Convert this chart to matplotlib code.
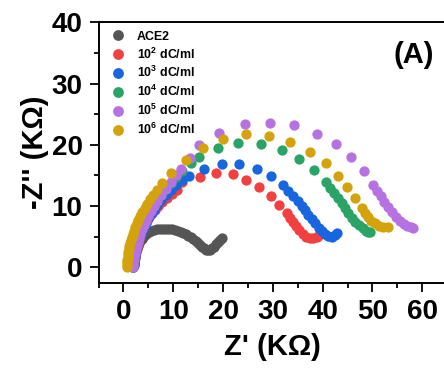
import matplotlib
matplotlib.use("Agg")
import matplotlib.pyplot as plt
from matplotlib.ticker import MultipleLocator
from matplotlib.font_manager import FontProperties

plt.rcParams['font.family'] = ['Liberation Sans', 'DejaVu Sans']
plt.rcParams['mathtext.fontset'] = 'custom'
plt.rcParams['mathtext.rm'] = 'Liberation Sans:bold'
plt.rcParams['mathtext.bf'] = 'Liberation Sans:bold'
plt.rcParams['mathtext.it'] = 'Liberation Sans:bold'

# ---------------- data ----------------
labels = ['ACE2', r'10$^{2}$ dC/ml', r'10$^{3}$ dC/ml', r'10$^{4}$ dC/ml',
          r'10$^{5}$ dC/ml', r'10$^{6}$ dC/ml']
colors = ['#555555', '#f23f3f', '#1766e0', '#2aa466', '#b772e2', '#d4a20c']

ace2_x = [2.0, 2.1, 2.2, 2.3, 2.4, 2.6, 2.8, 3.0, 3.2, 3.4, 3.7, 4.0, 4.3, 4.7, 5.1,
          5.6, 6.1, 6.7, 7.3, 7.9, 8.5, 9.1, 9.7, 10.3, 10.9, 11.5, 12.0, 12.5, 13.0,
          13.5, 14.0, 14.5, 14.9, 15.3, 15.7, 16.1, 16.5, 16.9, 17.3, 17.7, 18.1, 18.5,
          18.9, 19.3, 19.7]
ace2_y = [0.0, 0.5, 1.0, 1.5, 2.0, 2.5, 3.0, 3.5, 3.9, 4.3, 4.7, 5.0, 5.3, 5.6, 5.8,
          6.0, 6.1, 6.2, 6.3, 6.3, 6.3, 6.3, 6.2, 6.1, 6.0, 5.8, 5.6, 5.4, 5.2,
          4.9, 4.6, 4.3, 4.0, 3.7, 3.4, 3.1, 2.9, 2.8, 2.9, 3.1, 3.4, 3.8,
          4.2, 4.5, 4.8]

c2_x = [2.0, 2.05, 2.1, 2.2, 2.3, 2.4, 2.5, 2.7, 2.9, 3.1, 3.3, 3.6, 3.9, 4.3, 4.7,
        5.2, 5.7, 6.3, 7.0, 7.8, 8.7, 9.7, 10.7, 11.8, 15.4, 18.6,
        22.0, 24.6, 27.2, 29.6, 31.2, 32.8, 33.5, 34.1, 34.7, 35.3, 36.0, 36.7, 37.4,
        38.1, 38.9, 39.2]
c2_y = [0.0, 0.4, 0.8, 1.3, 1.8, 2.3, 2.8, 3.4, 4.0, 4.6, 5.2, 5.8, 6.4, 7.0, 7.6,
        8.2, 8.8, 9.4, 10.0, 10.7, 11.3, 12.0, 12.6, 13.9, 14.7, 15.4,
        15.2, 14.3, 13.1, 11.6, 10.2, 8.9, 8.1, 7.4, 6.7, 6.1, 5.4, 4.9, 4.8,
        4.8, 4.9, 5.3]

c3_x = [2.0, 2.05, 2.1, 2.2, 2.3, 2.4, 2.6, 2.8, 3.0, 3.2, 3.5, 3.8, 4.1, 4.5, 5.0,
        5.5, 6.1, 6.8, 7.6, 8.5, 9.5, 10.6, 11.8, 13.2, 16.2, 19.8, 23.2, 26.8, 29.6,
        32.0, 33.1, 34.1, 35.0, 35.9, 36.5, 37.1, 37.8, 38.5, 39.2, 39.9, 40.5, 41.1,
        41.8, 42.5, 42.8]
c3_y = [0.0, 0.4, 0.9, 1.4, 1.9, 2.4, 3.0, 3.6, 4.2, 4.8, 5.4, 6.0, 6.6, 7.3, 8.0,
        8.7, 9.4, 10.2, 11.0, 11.8, 12.6, 13.4, 14.2, 14.9, 16.0, 16.9, 16.9, 16.0, 14.9,
        13.4, 12.5, 11.6, 10.8, 10.0, 9.3, 8.5, 7.9, 7.2, 6.5, 5.9, 5.5, 5.2,
        5.0, 5.3, 5.6]

c4_x = [1.8, 1.85, 1.9, 2.0, 2.1, 2.2, 2.4, 2.6, 2.8, 3.0, 3.3, 3.6, 4.0, 4.4, 4.9,
        5.4, 6.0, 6.7, 7.5, 8.4, 9.5, 10.6, 11.8, 13.5, 15.2, 19.0, 23.0, 27.6, 31.8,
        35.3, 38.3, 40.7, 41.5, 42.3, 43.1, 43.9, 44.5, 45.1, 45.8, 46.5, 47.3, 48.1,
        48.7, 49.2, 49.5]
c4_y = [0.0, 0.4, 0.9, 1.4, 1.9, 2.4, 3.0, 3.6, 4.2, 4.8, 5.5, 6.2, 6.9, 7.6, 8.4,
        9.2, 10.0, 10.9, 11.8, 12.8, 13.8, 14.8, 15.8, 17.0, 18.0, 19.5, 20.3, 20.1, 19.2,
        17.7, 15.9, 13.9, 13.0, 12.1, 11.3, 10.5, 9.7, 8.9, 8.1, 7.4, 6.9, 6.4,
        6.0, 5.8, 5.8]

c5_x = [1.9, 1.95, 2.0, 2.1, 2.2, 2.3, 2.5, 2.7, 2.9, 3.1, 3.4, 3.7, 4.1, 4.5, 5.0,
        5.5, 6.1, 6.8, 7.6, 8.5, 9.5, 10.6, 11.6, 13.4, 15.2, 19.2, 24.4, 29.4, 34.3,
        38.9, 42.7, 45.7, 48.3, 50.1, 50.9, 51.7, 52.4, 53.1, 53.9, 54.7, 55.5, 56.3,
        57.0, 57.7, 58.2]
c5_y = [0.0, 0.4, 0.9, 1.4, 1.9, 2.4, 3.0, 3.6, 4.2, 4.8, 5.5, 6.2, 6.9, 7.6, 8.4,
        9.2, 10.0, 10.9, 11.8, 12.8, 13.9, 15.0, 16.0, 17.9, 20.0, 21.9, 23.4, 23.6, 23.3,
        21.8, 20.1, 18.0, 15.7, 13.4, 12.5, 11.6, 10.7, 9.8, 9.0, 8.2, 7.6, 7.1,
        6.8, 6.6, 6.5]

c6_x = [0.7, 0.72, 0.75, 0.8, 0.85, 0.9, 1.0, 1.1, 1.2, 1.35, 1.5, 1.7, 1.9, 2.1, 2.4,
        2.7, 3.0, 3.4, 3.8, 4.3, 4.8, 5.4, 6.0, 6.8, 7.8, 9.6, 12.6, 16.0, 20.0,
        24.6, 29.3, 33.5, 37.5, 40.7, 43.1, 44.9, 46.5, 47.9, 48.5, 49.1, 49.8, 50.5,
        51.3, 52.1, 53.1]
c6_y = [0.0, 0.4, 0.8, 1.2, 1.6, 2.0, 2.5, 3.0, 3.5, 4.0, 4.5, 5.0, 5.5, 6.0, 6.6,
        7.2, 7.8, 8.4, 9.0, 9.7, 10.4, 11.1, 11.8, 12.7, 13.8, 15.4, 17.5, 19.5, 20.9,
        21.8, 21.4, 20.5, 18.8, 17.0, 14.9, 13.1, 11.3, 9.7, 8.9, 8.2, 7.6, 7.2,
        6.8, 6.6, 6.6]

series_x = [ace2_x, c2_x, c3_x, c4_x, c5_x, c6_x]
series_y = [ace2_y, c2_y, c3_y, c4_y, c5_y, c6_y]

x_ticks = [0, 10, 20, 30, 40, 50, 60]
y_ticks = [0, 10, 20, 30, 40]

# ---------------- figure ----------------
W, H = 444, 370
fig = plt.figure(figsize=(W / 100, H / 100), dpi=100)
left, right, top, bottom = 98.5, 447.2, 22.3, 282.7
ax = fig.add_axes([left / W, (H - bottom) / H, (right - left) / W, (bottom - top) / H])

for xs, ys, c, lab in zip(series_x, series_y, colors, labels):
    ax.plot(xs, ys, linestyle='none', marker='o', ms=7.4, mfc=c, mec=c, mew=0,
            label=lab, clip_on=False)

ax.set_xlim(-5, 65)
ax.set_ylim(-2.5, 40)
ax.set_xticks(x_ticks)
ax.set_yticks(y_ticks)
ax.xaxis.set_minor_locator(MultipleLocator(5))
ax.yaxis.set_minor_locator(MultipleLocator(5))

for s in ax.spines.values():
    s.set_linewidth(1.4)
ax.tick_params(which='major', direction='out', length=6.5, width=1.3, pad=5,
               labelsize=20)
ax.tick_params(which='minor', direction='out', length=3.6, width=1.3)
for t in ax.get_xticklabels() + ax.get_yticklabels():
    t.set_fontweight('bold')

ax.set_xlabel("Z' (K\u03a9)", fontsize=21, fontweight='bold', labelpad=6)
ax.set_ylabel("-Z'' (K\u03a9)", fontsize=21, fontweight='bold', labelpad=2)

ax.text(0.905, 0.875, '(A)', transform=ax.transAxes, fontsize=21,
        fontweight='bold', ha='center', va='center')

leg = ax.legend(loc='upper left', bbox_to_anchor=(0.039, 0.968), frameon=False,
                prop=FontProperties(family='Liberation Sans', weight='bold', size=8.9),
                handlelength=1.0, handletextpad=1.0, labelspacing=0.3,
                borderaxespad=0, borderpad=0, markerscale=1.05, numpoints=1)

fig.savefig('out.png', dpi=100)
